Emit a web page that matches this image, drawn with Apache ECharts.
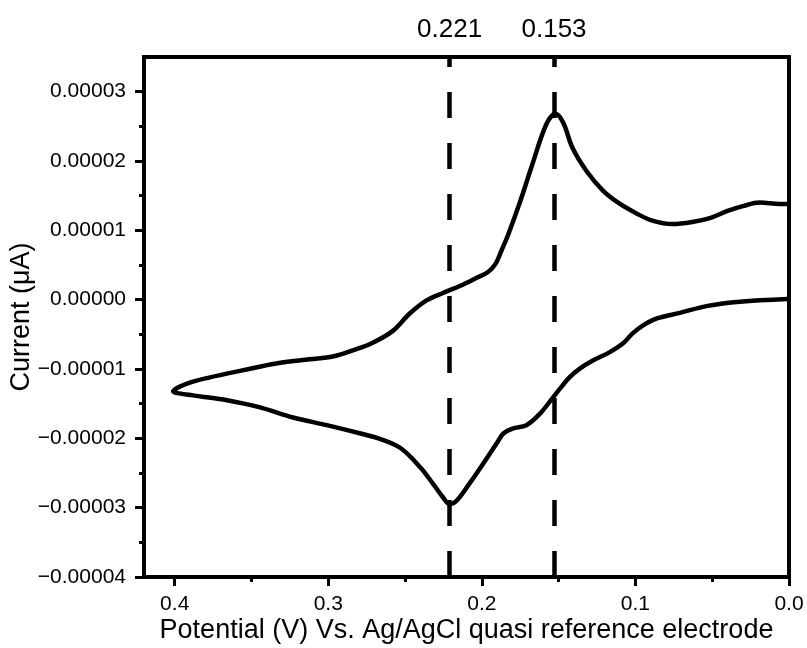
<!DOCTYPE html>
<html>
<head>
<meta charset="utf-8">
<script src="https://cdn.jsdelivr.net/npm/echarts@6/dist/echarts.min.js"></script>
<style>html,body{margin:0;padding:0;background:#fff}#c{width:807px;height:648px}</style>
</head>
<body>
<div id="c"></div>
<script>
// Potential (V) and current (A), scan order
var potential = [
  0.001, 0.032, 0.053, 0.071, 0.086, 0.095, 0.102, 0.108, 0.117, 0.128,
  0.136, 0.143, 0.149, 0.154, 0.162, 0.171, 0.180, 0.186, 0.190, 0.199,
  0.208, 0.216, 0.221, 0.225, 0.232, 0.240, 0.253, 0.266, 0.279, 0.301,
  0.323, 0.345, 0.366, 0.388, 0.401,
  0.392, 0.377, 0.356, 0.334, 0.312, 0.297, 0.284, 0.271, 0.258, 0.247,
  0.236, 0.225, 0.214, 0.203, 0.196, 0.191, 0.187, 0.183, 0.175, 0.167,
  0.158, 0.152, 0.147, 0.141, 0.132, 0.121, 0.110, 0.099, 0.089, 0.076,
  0.063, 0.051, 0.040, 0.030, 0.019, 0.006, 0.001
];
var current = [
  0.01e-5, -0.03e-5, -0.09e-5, -0.19e-5, -0.27e-5, -0.37e-5, -0.49e-5, -0.63e-5, -0.76e-5, -0.88e-5,
  -0.99e-5, -1.12e-5, -1.28e-5, -1.42e-5, -1.64e-5, -1.81e-5, -1.86e-5, -1.93e-5, -2.06e-5, -2.36e-5,
  -2.65e-5, -2.89e-5, -2.95e-5, -2.86e-5, -2.65e-5, -2.42e-5, -2.14e-5, -2.01e-5, -1.93e-5, -1.81e-5,
  -1.70e-5, -1.55e-5, -1.45e-5, -1.38e-5, -1.32e-5,
  -1.21e-5, -1.12e-5, -1.02e-5, -0.92e-5, -0.86e-5, -0.82e-5, -0.73e-5, -0.62e-5, -0.45e-5, -0.20e-5,
  -0.01e-5, 0.10e-5, 0.20e-5, 0.32e-5, 0.40e-5, 0.52e-5, 0.72e-5, 0.93e-5, 1.42e-5, 1.96e-5,
  2.53e-5, 2.68e-5, 2.55e-5, 2.19e-5, 1.86e-5, 1.57e-5, 1.38e-5, 1.24e-5, 1.14e-5, 1.09e-5,
  1.12e-5, 1.18e-5, 1.28e-5, 1.35e-5, 1.40e-5, 1.38e-5, 1.38e-5
];
var peakPotentials = [0.221, 0.153];
var xTickValues = [0, 0.1, 0.2, 0.3, 0.4];
var xMinorValues = [0.05, 0.15, 0.25, 0.35];
var yTickValues = [-4e-5, -3e-5, -2e-5, -1e-5, 0, 1e-5, 2e-5, 3e-5];
var yMinorValues = [-3.5e-5, -2.5e-5, -1.5e-5, -0.5e-5, 0.5e-5, 1.5e-5, 2.5e-5];

var FONT = '"Liberation Sans", Arial, sans-serif';
var data = potential.map(function (p, i) { return [p, current[i]]; });

function yFmt(v) {
  var s = (Math.abs(v) < 1e-12 ? 0 : v).toFixed(5);
  return s.replace('-', '\u2212');
}

var chart = echarts.init(document.getElementById('c'), null, { renderer: 'canvas' });
chart.setOption({
  animation: false,
  backgroundColor: '#fff',
  grid: { left: 144, right: 18, top: 57, bottom: 71, containLabel: false, outerBoundsMode: 'none',
    show: true, borderColor: '#000', borderWidth: 4, backgroundColor: 'transparent' },
  xAxis: [{
    type: 'value', inverse: true, min: 0, max: 0.42, position: 'bottom',
    splitLine: { show: false },
    axisLine: { show: true, onZero: false, lineStyle: { color: '#000', width: 4 } },
    axisTick: { show: true, inside: false, length: 9, lineStyle: { color: '#000', width: 3 }, customValues: xTickValues },
    axisLabel: { show: true, margin: 17, color: '#000', fontSize: 21, fontFamily: FONT, customValues: xTickValues,
      formatter: function (v) { return v.toFixed(1); } },
    name: 'Potential (V) Vs. Ag/AgCl quasi reference electrode',
    nameLocation: 'middle', nameGap: 40, nameMoveOverlap: false,
    nameTextStyle: { color: '#000', fontSize: 27, fontFamily: FONT }
  }, {
    type: 'value', inverse: true, min: 0, max: 0.42, position: 'bottom',
    splitLine: { show: false },
    axisLine: { show: false, onZero: false },
    axisTick: { show: true, inside: false, length: 5, lineStyle: { color: '#000', width: 3 }, customValues: xMinorValues },
    axisLabel: { show: false }
  }],
  yAxis: [{
    type: 'value', min: -4e-5, max: 3.5e-5, interval: 1e-5, position: 'left',
    splitLine: { show: false },
    axisLine: { show: true, onZero: false, lineStyle: { color: '#000', width: 4 } },
    axisTick: { show: true, inside: false, length: 9, lineStyle: { color: '#000', width: 3 }, customValues: yTickValues },
    axisLabel: { show: true, margin: 18, color: '#000', fontSize: 21, fontFamily: FONT, customValues: yTickValues,
      formatter: yFmt },
    name: 'Current (\u03bcA)',
    nameLocation: 'middle', nameGap: 109, nameMoveOverlap: false,
    nameTextStyle: { color: '#000', fontSize: 27, fontFamily: FONT }
  }, {
    type: 'value', min: -4e-5, max: 3.5e-5, interval: 1e-5, position: 'left',
    splitLine: { show: false },
    axisLine: { show: false, onZero: false },
    axisTick: { show: true, inside: false, length: 5, lineStyle: { color: '#000', width: 3 }, customValues: yMinorValues },
    axisLabel: { show: false }
  }],
  series: [{
    type: 'line',
    data: data,
    showSymbol: false,
    smooth: 0.35,
    lineStyle: { color: '#000', width: 4.5 },
    markLine: {
      silent: true,
      precision: 3,
      symbol: ['none', 'none'],
      lineStyle: { color: '#000', width: 4.5, type: [26, 25] },
      label: { show: true, position: 'end', distance: 14, color: '#000', fontSize: 26, fontFamily: FONT,
        formatter: function (p) { return p.data.xAxis.toFixed(3); } },
      data: peakPotentials.map(function (v) { return { xAxis: v }; })
    }
  }]
});
</script>
</body>
</html>
